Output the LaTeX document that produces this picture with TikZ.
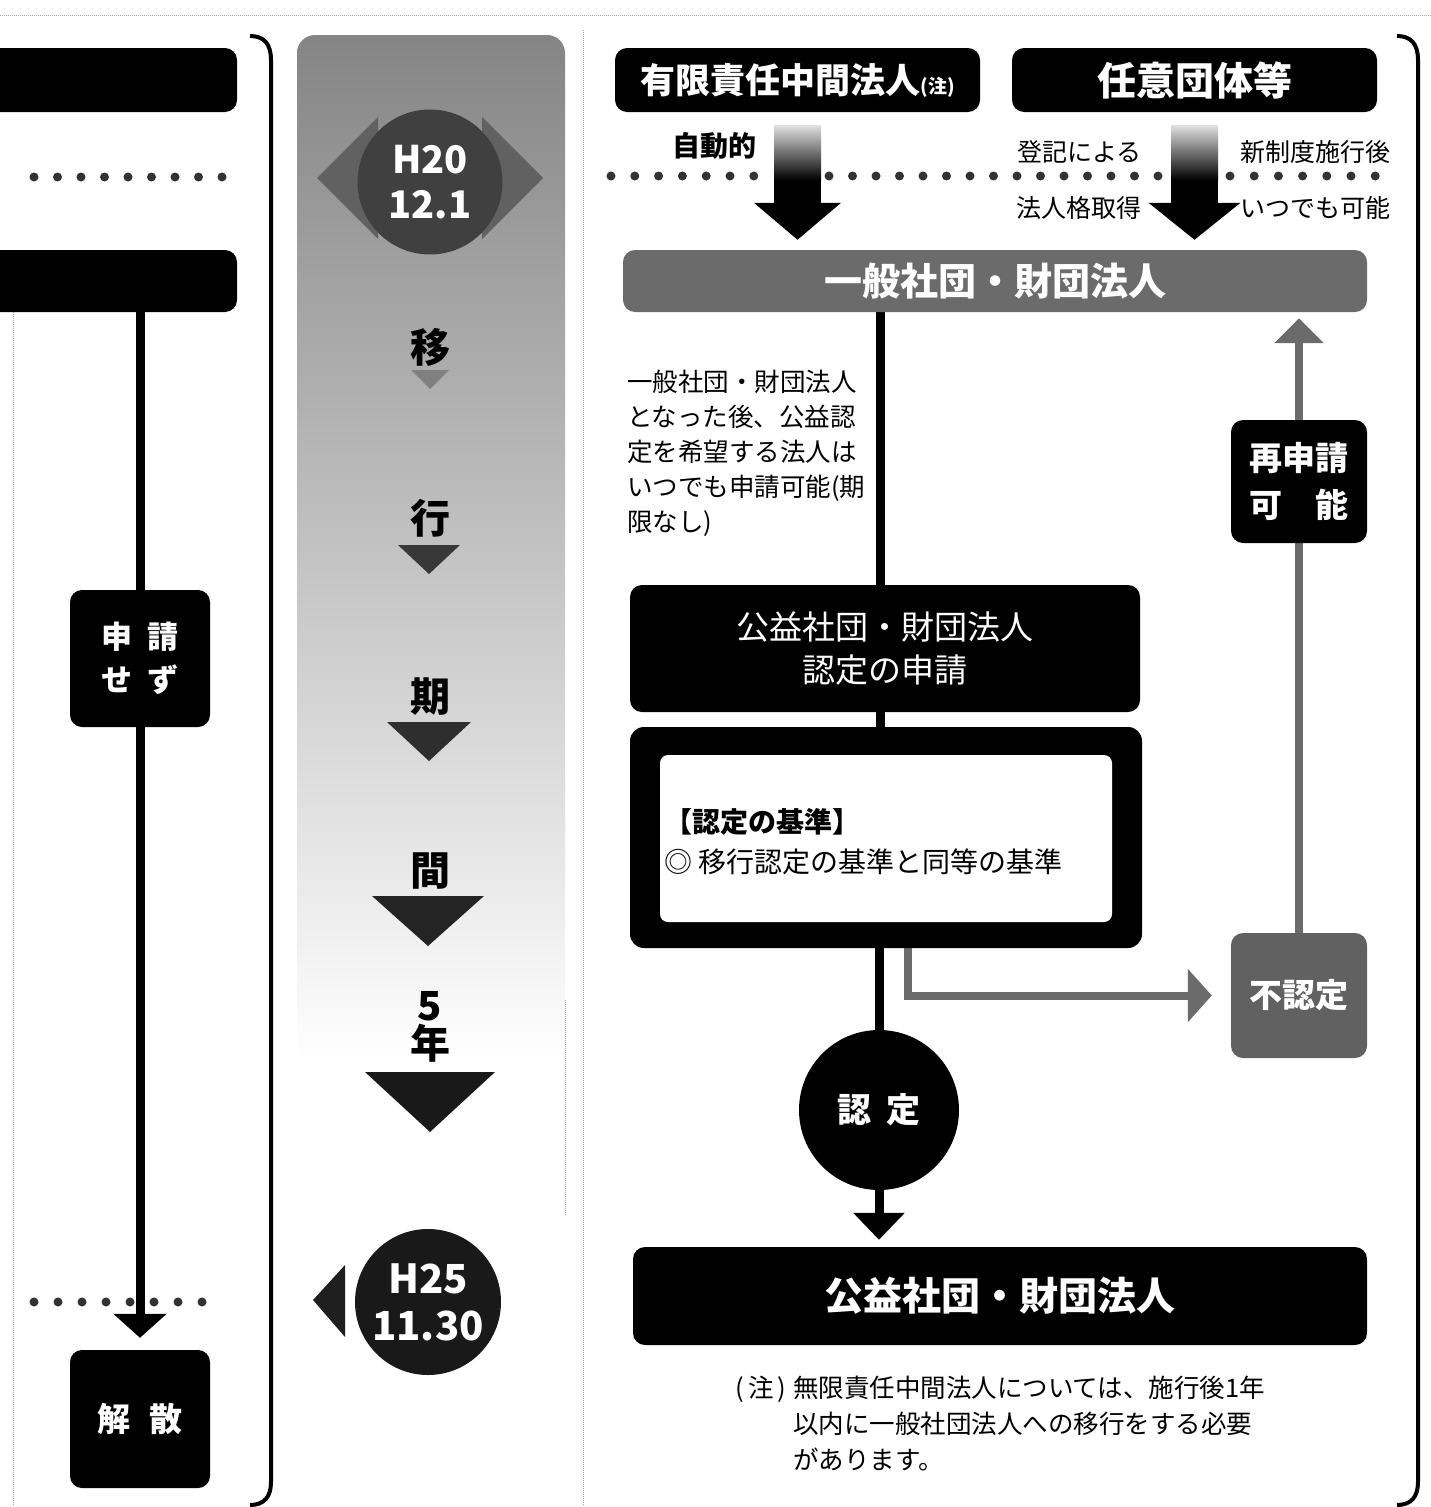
\documentclass[tikz,border=0pt]{standalone}
\usepackage{fontspec}
\setmainfont{Noto Sans CJK JP}
\usetikzlibrary{arrows.meta,calc}
\pgfdeclarelayer{back}
\pgfdeclarelayer{bg}
\pgfsetlayers{back,bg,main}
\newcommand\fsz[2]{\fontsize{#1}{#2}\selectfont}
\begin{document}
\begin{tikzpicture}[x=1pt,y=-1pt,
  blk/.style={fill=black, rounded corners=12pt, text=white, inner sep=0pt, align=center},
  conn/.style={line width=9pt, draw=black},
  gconn/.style={line width=8pt, draw=black!58},
  dotc/.style={fill=black!80},
  lbl/.style={inner sep=0pt, text=black},
  colch/.style={inner sep=0pt, text=black, font=\fsz{40}{40}\bfseries},
  faint/.style={draw=black!35, densely dotted, line width=1pt}
]
\useasboundingbox (0,0) rectangle (1431,1507);
\clip (0,0) rectangle (1431,1507);

\begin{pgfonlayer}{back}
  \fill[white] (0,0) rectangle (1431,1507);
  \shade[top color=black!48, bottom color=white, rounded corners=18pt]
    (297,1060) -- (297,35) -- (565,35) -- (565,1060) -- cycle;
  \draw[faint] (0,15) -- (1431,15);
  \draw[faint] (583,30) -- (583,1505);
  \draw[faint] (13,300) -- (13,1505);
  \draw[faint] (565,1000) -- (565,1215);
\end{pgfonlayer}

% brackets
\draw[line width=4pt] (250,36) .. controls (264,36) and (271,44) .. (271,60) -- (271,1482)
  .. controls (271,1497) and (264,1505) .. (250,1505);
\draw[line width=4pt] (1397,36) .. controls (1411,36) and (1418,44) .. (1418,60) -- (1418,1482)
  .. controls (1418,1497) and (1411,1505) .. (1397,1505);

% ---------------- left panel
\node[blk, minimum width=264pt, minimum height=64pt] (L1) at (105,80) {};
\node[blk, minimum width=264pt, minimum height=62pt] (L2) at (105,281) {};
\foreach \i in {0,...,8} \fill[dotc] ({34+23.5*\i},177) circle (4.5pt);
\foreach \i in {0,...,7} \fill[dotc] ({34+24*\i},1302) circle (4.5pt);
\node[blk, minimum width=140pt, minimum height=137pt, font=\fsz{31}{43}\bfseries] (sei) at (140,658.5)
  {申\hspace{15pt}請\\せ\hspace{15pt}ず};
\node[blk, minimum width=140pt, minimum height=138pt, font=\fsz{33}{40}\bfseries] (jsan) at (140,1419)
  {解\hspace{19pt}散};

% ---------------- middle column
\fill[black!62] (317,178) -- (378,117) -- (378,239) -- cycle;
\fill[black!62] (543,178) -- (482,117) -- (482,239) -- cycle;
\node[circle, fill=black!75, minimum size=145pt, inner sep=0pt, text=white,
  font=\fsz{38}{45}\bfseries, align=center] (h20) at (430,182) {H20\\12.1};

\node[colch] (c1) at (430,347) {移};
\fill[black!50] (411,370) -- (449,370) -- (430,389) -- cycle;
\node[colch] (c2) at (430,518) {行};
\fill[black!78] (398,545) -- (460,545) -- (429,574) -- cycle;
\node[colch] (c3) at (430,697) {期};
\fill[black!82] (387,722) -- (471,722) -- (429,761) -- cycle;
\node[colch] (c4) at (430,871) {間};
\fill[black!86] (372,896) -- (484,896) -- (428,946) -- cycle;
\node[colch] (c5) at (430,1006) {5};
\node[colch] (c6) at (430,1043) {年};
\fill[black!90] (365,1072) -- (495,1072) -- (430,1132) -- cycle;

\fill[black!88] (313,1300) -- (345,1265) -- (345,1337) -- cycle;
\node[circle, fill=black!90, minimum size=146pt, inner sep=0pt, text=white,
  font=\fsz{40}{47}\bfseries, align=center] (h25) at (428,1302) {H25\\11.30};

% ---------------- right panel
\node[blk, minimum width=365pt, minimum height=64pt, font=\fsz{35}{40}\bfseries] (yugen) at (797.5,80)
  {有限責任中間法人{\fsz{19}{20}(注)}};
\node[blk, minimum width=365pt, minimum height=64pt, font=\fsz{39}{40}\bfseries] (nini) at (1194.5,80)
  {任意団体等};
\node[blk, fill=black!58, minimum width=744pt, minimum height=62pt, font=\fsz{38}{40}\bfseries] (ippan)
  at (995,281) {一般社団・財団法人};

\foreach \i in {0,...,6} \fill[dotc] ({611+23.8*\i},176) circle (4.5pt);
\foreach \i in {0,...,14} \fill[dotc] ({829+23.5*\i},176) circle (4.5pt);
\foreach \i in {0,...,6} \fill[dotc] ({1230+24.2*\i},176) circle (4.5pt);

\node[lbl, anchor=east, font=\fsz{28}{30}\bfseries] (jido) at (757,146) {自動的};
\node[lbl, anchor=east, font=\fsz{25}{30}] (toki1) at (1142,152) {登記による};
\node[lbl, anchor=east, font=\fsz{25}{30}] (toki2) at (1142,208) {法人格取得};
\node[lbl, anchor=west, font=\fsz{25}{30}] (shin1) at (1240,152) {新制度施行後};
\node[lbl, anchor=west, font=\fsz{25}{30}] (shin2) at (1240,208) {いつでも可能};

\draw[line width=47pt, -{Triangle[width=85pt,length=37pt]}, shorten <=13pt, shorten >=10pt]
  (yugen.south) -- (ippan.north -| yugen.south);
\shade[top color=black!12, bottom color=black] ($(yugen.south)+(-23.5,13)$) rectangle ($(yugen.south)+(23.5,68)$);
\draw[line width=47pt, -{Triangle[width=90pt,length=37pt]}, shorten <=13pt, shorten >=10pt]
  (nini.south) -- (ippan.north -| nini.south);
\shade[top color=black!12, bottom color=black] ($(nini.south)+(-23.5,13)$) rectangle ($(nini.south)+(23.5,68)$);

\node[lbl, anchor=north west, align=left, font=\fsz{25.5}{35}] (desc) at (627,370)
  {一般社団・財団法人\\となった後、公益認\\定を希望する法人は\\いつでも申請可能(期\\限なし)};

\node[blk, minimum width=510pt, minimum height=127pt, font=\fsz{33}{43}] (shinsei) at (885,648.5)
  {公益社団・財団法人\\認定の申請};
\node[blk, rounded corners=14pt, minimum width=512pt, minimum height=221pt] (kijun) at (886,837.5) {};
\node[fill=white, rounded corners=8pt, minimum width=452pt, minimum height=167pt, inner sep=0pt] (kijunin)
  at (886,838.5) {};
\node[lbl, anchor=west, align=left, font=\fsz{28}{40}] (kijuntxt) at (664,842)
  {{\bfseries 【認定の基準】}\\◎ 移行認定の基準と同等の基準};

\node[blk, fill=black!62, minimum width=136pt, minimum height=125pt, font=\fsz{33}{40}\bfseries] (funin)
  at (1299,995.5) {不認定};
\node[blk, minimum width=136pt, minimum height=123pt, font=\fsz{33}{47}\bfseries] (sai) at (1299,481.5)
  {再申請\\可\hspace{33pt}能};
\node[circle, fill=black, minimum size=160pt, inner sep=0pt, text=white, font=\fsz{34}{40}\bfseries] (nintei)
  at (879,1110) {認\hspace{16pt}定};
\node[blk, minimum width=734pt, minimum height=98pt, font=\fsz{39}{40}\bfseries] (final) at (1000,1296)
  {公益社団・財団法人};

\node[lbl, anchor=north west, align=left, font=\fsz{25.5}{36}] (chu) at (735,1376)
  {\makebox[58pt][l]{(\,注\,)}無限責任中間法人については、施行後1年\\
   \hspace*{58pt}以内に一般社団法人への移行をする必要\\
   \hspace*{58pt}があります。};

% ---------------- connectors
\coordinate (cx) at (880,0);
\coordinate (fx) at (908,0);
\begin{pgfonlayer}{bg}
  \draw[conn, -{Triangle[width=52pt,length=24pt]}, shorten >=12pt] (L2.south -| sei.north) -- (jsan.north);
  \draw[conn] (ippan.south -| cx) -- (shinsei.north -| cx);
  \draw[conn] (shinsei.south -| cx) -- (kijun.north -| cx);
  \draw[conn] (kijun.south -| nintei.north) -- (nintei.north);
  \draw[conn, -{Triangle[width=50pt,length=27pt]}, shorten >=7pt] (nintei.south) -- (final.north -| nintei.south);
  \draw[gconn, -{Triangle[width=52pt,length=24pt]}, shorten >=19pt] (kijun.south -| fx) |- (funin.west);
  \draw[gconn, -{Triangle[width=48pt,length=25pt]}, shorten >=6pt] (funin.north) -- (ippan.south -| funin.north);
\end{pgfonlayer}
\end{tikzpicture}
\end{document}
